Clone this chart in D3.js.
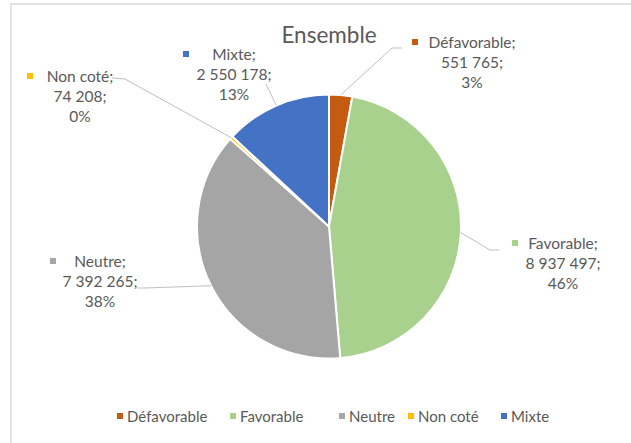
<!DOCTYPE html>
<html>
<head>
<meta charset="utf-8">
<script src="https://cdn.jsdelivr.net/npm/d3@7"></script>
<style>
  body { margin: 0; background: #fff; }
  text { font-family: Lato, "Open Sans", sans-serif; fill: #595959; }
</style>
</head>
<body>
<svg id="chart"></svg>
<script>
var width = 631;
var height = 443;

// data
var categories = ["Défavorable", "Favorable", "Neutre", "Non coté", "Mixte"];
var values = [551765, 8937497, 7392265, 74208, 2550178];
var valueLabels = ["551 765", "8 937 497", "7 392 265", "74 208", "2 550 178"];
var percentLabels = ["3%", "46%", "38%", "0%", "13%"];
var colors = ["#C55A11", "#A9D18E", "#A5A5A5", "#FFC000", "#4472C4"];

// label placement (layout only)
var labelPos = [
    {cx: 472, y: 48, sq: 412, elbow: [392, 48], end: [402, 48]},
    {cx: 563, y: 249, sq: 512, elbow: [490, 250], end: [499, 250]},
    {cx: 100, y: 267, sq: 50, elbow: [145, 288], end: [137, 288]},
    {cx: 80, y: 82, sq: 27, elbow: [125, 79], end: [112, 78]},
    {cx: 234, y: 60, sq: 183, elbow: [266, 84], end: [266, 84]}
];

var cx = 329, cy = 226.5, radius = 132;

var svg = d3.select("#chart")
    .attr("width", width)
    .attr("height", height);

// frame
svg.append("rect")
    .attr("x", 11)
    .attr("y", 4)
    .attr("width", width + 10)
    .attr("height", height + 10)
    .attr("fill", "none")
    .attr("stroke", "#d9d9d9")
    .attr("stroke-width", 1.5);

svg.append("text")
    .attr("x", cx)
    .attr("y", 43)
    .style("text-anchor", "middle")
    .style("font-size", "22.5px")
    .text("Ensemble");

var pie = d3.pie().sort(null).value(function(d) { return d; });
var arcs = pie(values);

var arc = d3.arc().innerRadius(0).outerRadius(radius);

var g = svg.append("g")
    .attr("transform", "translate(" + cx + "," + cy + ")");

g.selectAll(".slice")
    .data(arcs)
    .enter().append("path")
    .attr("class", "slice")
    .attr("d", arc)
    .attr("fill", function(d, i) { return colors[i]; })
    .attr("stroke", "#fff")
    .attr("stroke-width", 2);

// leader lines
var edgePoint = function(d) {
    var a = (d.startAngle + d.endAngle) / 2;
    return [cx + radius * Math.sin(a), cy - radius * Math.cos(a)];
};

svg.selectAll(".leader")
    .data(arcs)
    .enter().append("polyline")
    .attr("class", "leader")
    .attr("fill", "none")
    .attr("stroke", "#bfbfbf")
    .attr("stroke-width", 1)
    .attr("points", function(d, i) {
        var p = edgePoint(d);
        var l = labelPos[i];
        return [p, l.elbow, l.end].map(function(q) { return q.join(","); }).join(" ");
    });

// data labels
var labels = svg.selectAll(".dataLabel")
    .data(arcs)
    .enter().append("g")
    .attr("class", "dataLabel");

labels.append("rect")
    .attr("x", function(d, i) { return labelPos[i].sq; })
    .attr("y", function(d, i) { return labelPos[i].y - 9; })
    .attr("width", 6)
    .attr("height", 6)
    .attr("fill", function(d, i) { return colors[i]; });

labels.each(function(d, i) {
    var lines = [categories[i] + ";", valueLabels[i] + ";", percentLabels[i]];
    d3.select(this).selectAll("text")
        .data(lines)
        .enter().append("text")
        .attr("x", labelPos[i].cx)
        .attr("y", function(t, j) { return labelPos[i].y + j * 20; })
        .style("text-anchor", "middle")
        .style("font-size", "15.5px")
        .text(function(t) { return t; });
});

// legend
var legendX = [117, 230, 339, 408, 501];
var legend = svg.selectAll(".legendItem")
    .data(categories)
    .enter().append("g")
    .attr("class", "legendItem")
    .attr("transform", function(d, i) { return "translate(" + legendX[i] + ",417)"; });

legend.append("rect")
    .attr("x", 0)
    .attr("y", -4)
    .attr("width", 6)
    .attr("height", 6)
    .attr("fill", function(d, i) { return colors[i]; });

legend.append("text")
    .attr("x", 10)
    .attr("y", 5)
    .style("font-size", "15px")
    .text(function(d) { return d; });
</script>
</body>
</html>
